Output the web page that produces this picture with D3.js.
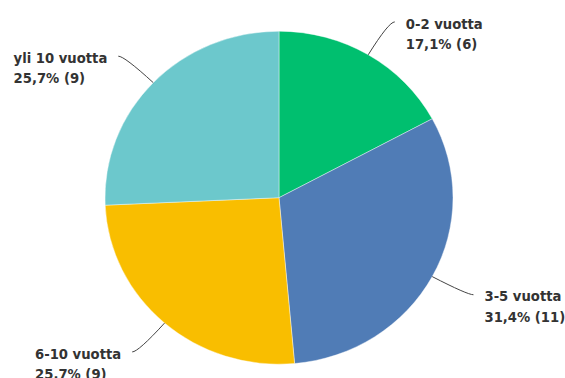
<!DOCTYPE html>
<html>
<head>
<meta charset="utf-8">
<script src="https://cdn.jsdelivr.net/npm/d3@7"></script>
<style>
  html, body { margin: 0; padding: 0; background: #fff; }
  svg { display: block; }
</style>
</head>
<body>
<svg id="chart" width="565" height="378"></svg>
<script>
const categories = ["0-2 vuotta", "3-5 vuotta", "6-10 vuotta", "yli 10 vuotta"];
const counts = [6, 11, 9, 9];
const percentLabels = ["17,1%", "31,4%", "25,7%", "25,7%"];
const colors = ["#00BF6F", "#507CB6", "#F9BE00", "#6CC8CC"];

const W = 565, H = 378;
const cx = 279, cy = 197.7, ry = 166.5, rx = 174;
const svg = d3.select("#chart");

const pie = d3.pie().sort(null).value(d => d)(counts);
const arc = d3.arc().innerRadius(0).outerRadius(ry);

const g = svg.append("g")
  .attr("transform", `translate(${cx},${cy}) scale(${rx / ry},1)`);

g.selectAll("path.slice")
  .data(pie)
  .enter().append("path")
  .attr("class", "slice")
  .attr("d", arc)
  .attr("fill", (d, i) => colors[i])
  .attr("stroke", "#fff")
  .attr("stroke-width", 0.4);

function pt(a, k) {
  return [cx + k * rx * Math.sin(a), cy - k * ry * Math.cos(a)];
}

const labels = svg.append("g");
pie.forEach((d, i) => {
  const a = (d.startAngle + d.endAngle) / 2;
  const right = Math.sin(a) > 0;
  const p0 = pt(a, 1.0);
  const p1 = pt(a, 1.23);
  const p2 = [p1[0] + (right ? 6 : -6), p1[1]];
  const path = d3.path();
  path.moveTo(p0[0], p0[1]);
  path.quadraticCurveTo(p1[0], p1[1], p2[0], p2[1]);
  labels.append("path")
    .attr("d", path.toString())
    .attr("fill", "none")
    .attr("stroke", "#444")
    .attr("stroke-width", 1);
  const t = labels.append("text")
    .attr("y", p2[1] + 6.7)
    .attr("font-family", "'DejaVu Sans', sans-serif")
    .attr("font-weight", "bold")
    .attr("font-size", "13.2px")
    .attr("fill", "#333");
  const s1 = t.append("tspan").text(categories[i]);
  const s2 = t.append("tspan").attr("dy", 20.5)
    .text(`${percentLabels[i]} (${counts[i]})`);
  const w = s1.node().getComputedTextLength();
  const tx = right ? p2[0] + 11 : p2[0] - 11 - w;
  s1.attr("x", tx);
  s2.attr("x", tx);
});
</script>
</body>
</html>
